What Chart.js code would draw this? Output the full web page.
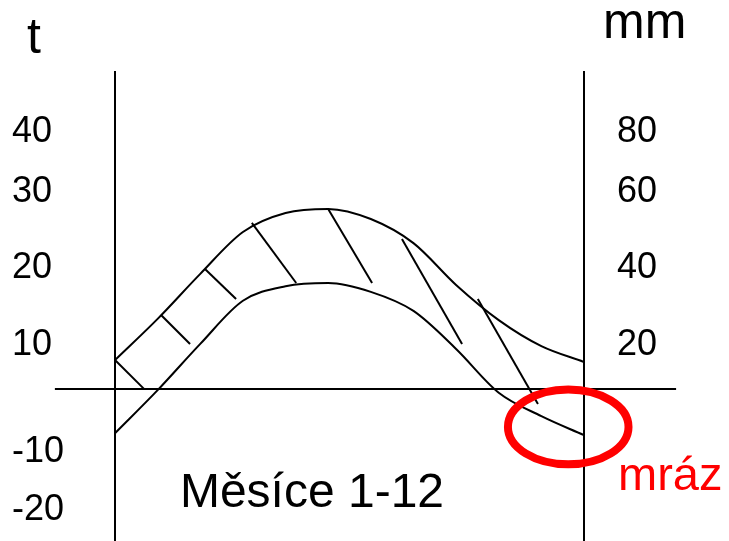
<!DOCTYPE html>
<html>
<head>
<meta charset="utf-8">
<script src="https://cdn.jsdelivr.net/npm/chart.js@4.4.1/dist/chart.umd.min.js"></script>
<style>
html,body{margin:0;padding:0;background:#ffffff;}
canvas{display:block;}
</style>
</head>
<body>
<canvas id="c" width="729" height="541"></canvas>
<script>
// ---- data ----
const months = [1, 2, 3, 4, 5, 6, 7, 8, 9, 10, 11, 12];
// lower curve: temperature (t, °C)
const temperature = [-7.0, -0.2, 7.1, 13.9, 16.2, 16.7, 15.3, 12.3, 6.3, -0.6, -4.3, -7.3];
// upper curve: precipitation (mm)
const precipitation = [9.1, 22.1, 36.3, 49.5, 55.5, 56.8, 53.6, 46.0, 32.8, 21.7, 13.5, 8.5];

// hatch strokes between the curves: [month start, t start, month end, t end]
const hatches = [
  [1.00, 4.56, 1.68, 0.00],
  [2.08, 11.66, 2.76, 7.08],
  [3.11, 18.92, 3.84, 14.18],
  [4.21, 26.18, 5.25, 16.71],
  [6.00, 28.39, 7.03, 16.71],
  [7.73, 23.65, 9.14, 7.08],
  [9.51, 14.18, 10.92, -2.38]
];

// horizontal 0 °C line, running past both axes
const zeroLineMonths = [-0.41, 14.16];
const zeroLineT = [0, 0];

// tick labels of the hand-drawn axes and the level (in axis units) where each is written
const tTickLabels = ['40', '30', '20', '10', '-10', '-20'];
const tTickLevels = [40.5, 31.1, 19.1, 6.9, -10.0, -19.1];
const mmTickLabels = ['80', '60', '40', '20'];
const mmTickLevels = [81.0, 62.2, 38.2, 13.8];

// frost mark (ellipse) in data units
const frostMonth = 11.63, frostT = -6.0, frostMonthRadius = 1.414, frostTRadius = 5.89;

// ---- chart ----
const curveStyle = {borderColor: '#000', borderWidth: 2, pointRadius: 0, fill: false,
  cubicInterpolationMode: 'monotone'};
const datasets = [
  Object.assign({data: months.map((m, i) => ({x: m, y: temperature[i]})), yAxisID: 't'}, curveStyle),
  Object.assign({data: months.map((m, i) => ({x: m, y: precipitation[i]})), yAxisID: 'mm'}, curveStyle),
  {
    data: zeroLineMonths.map((m, i) => ({x: m, y: zeroLineT[i]})),
    yAxisID: 't', borderColor: '#000', borderWidth: 2, pointRadius: 0, tension: 0, clip: false
  }
];
hatches.forEach(h => datasets.push({
  data: [{x: h[0], y: h[1]}, {x: h[2], y: h[3]}],
  yAxisID: 't', borderColor: '#000', borderWidth: 2, pointRadius: 0, tension: 0, clip: false
}));

const FONT = '"Liberation Sans", Arial, Helvetica, sans-serif';

const sketchPlugin = {
  id: 'sketch',
  afterDraw(chart) {
    const {ctx} = chart;
    const x = chart.scales.x, t = chart.scales.t;
    ctx.save();
    // frost ellipse
    const cx = x.getPixelForValue(frostMonth);
    const cy = t.getPixelForValue(frostT);
    const rx = Math.abs(x.getPixelForValue(frostMonth + frostMonthRadius) - cx);
    const ry = Math.abs(t.getPixelForValue(frostT + frostTRadius) - cy);
    ctx.beginPath();
    ctx.ellipse(cx, cy, rx, ry, 0, 0, Math.PI * 2);
    ctx.lineWidth = 8;
    ctx.strokeStyle = '#ff0000';
    ctx.stroke();

    ctx.textBaseline = 'alphabetic';
    ctx.fillStyle = '#000';
    ctx.textAlign = 'left';
    ctx.font = '50px ' + FONT;
    ctx.fillText('t', 27, 53);
    ctx.fillText('mm', 603, 38);
    ctx.font = '48px ' + FONT;
    ctx.textAlign = 'center';
    ctx.fillText('Měsíce 1-12', 312, 507);
    ctx.textAlign = 'left';
    ctx.font = '47px ' + FONT;
    ctx.fillStyle = '#ff0000';
    ctx.fillText('mráz', 618, 490);
    ctx.restore();
  }
};

new Chart(document.getElementById('c'), {
  type: 'line',
  data: {datasets},
  options: {
    responsive: false,
    animation: false,
    events: [],
    layout: {padding: {left: 12, right: 0, top: 72, bottom: 0}},
    plugins: {legend: {display: false}, tooltip: {enabled: false}, title: {display: false}},
    scales: {
      x: {type: 'linear', min: 1, max: 12, display: false},
      t: {
        type: 'linear', position: 'left', min: -24, max: 50,
        grid: {display: false, drawTicks: false},
        border: {display: true, color: '#000', width: 2},
        afterBuildTicks: s => { s.ticks = tTickLevels.map(v => ({value: v})); },
        afterFit: s => { s.width = 103; s.paddingTop = 0; s.paddingBottom = 0; },
        ticks: {
          autoSkip: false, crossAlign: 'far', padding: 0, color: '#000',
          font: {family: FONT, size: 36},
          callback: (v, i) => tTickLabels[i]
        }
      },
      mm: {
        type: 'linear', position: 'right', min: -48, max: 100,
        grid: {display: false, drawTicks: false},
        border: {display: true, color: '#000', width: 2},
        afterBuildTicks: s => { s.ticks = mmTickLevels.map(v => ({value: v})); },
        afterFit: s => { s.width = 145; s.paddingTop = 0; s.paddingBottom = 0; },
        ticks: {
          autoSkip: false, crossAlign: 'near', padding: 33, color: '#000',
          font: {family: FONT, size: 36},
          callback: (v, i) => mmTickLabels[i]
        }
      }
    }
  },
  plugins: [sketchPlugin]
});
</script>
</body>
</html>
